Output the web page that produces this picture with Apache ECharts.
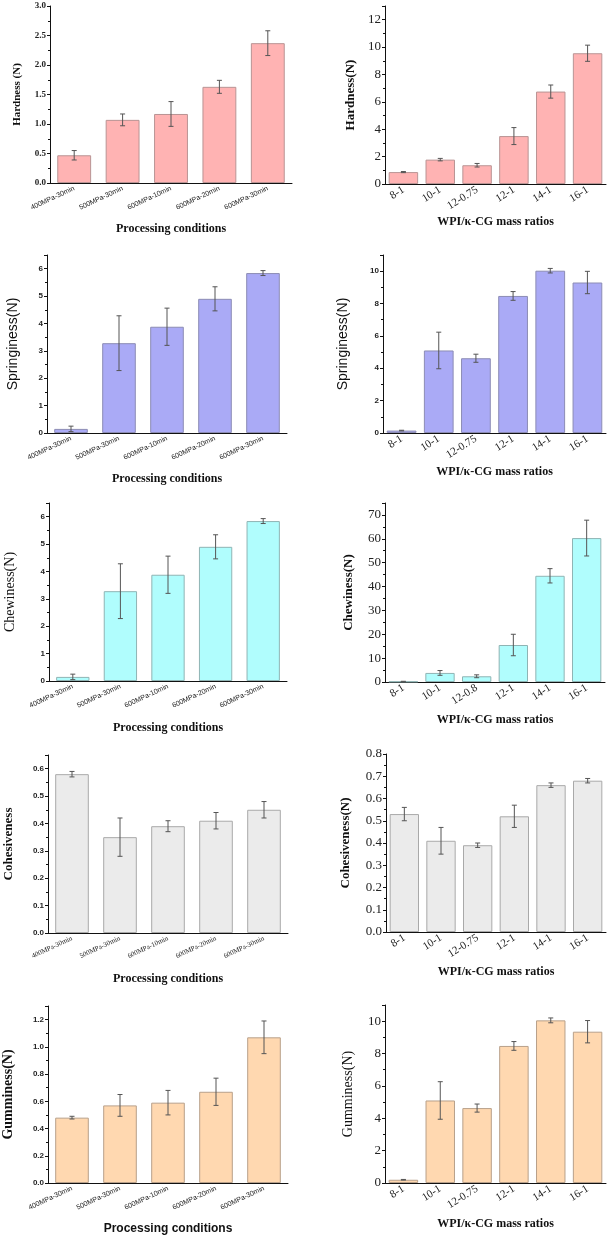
<!DOCTYPE html>
<html><head><meta charset="utf-8">
<script src="https://cdn.jsdelivr.net/npm/echarts@6/dist/echarts.min.js"></script>
<style>html,body{margin:0;padding:0;background:#fff}#c{width:609px;height:1239px}</style>
</head><body><div id="c"></div>
<script>
// ---- categories ----
const condCats = ["400MPa-30min", "500MPa-30min", "600MPa-10min", "600MPa-20min", "600MPa-30min"];
const ratioCats = ["8-1", "10-1", "12-0.75", "12-1", "14-1", "16-1"];
const ratioCatsChew = ["8-1", "10-1", "12-0.8", "12-1", "14-1", "16-1"];

// ---- values (mean) and error (sd) ----
const hardnessCond = [0.47, 1.07, 1.17, 1.63, 2.37];
const hardnessCondErr = [0.08, 0.10, 0.21, 0.11, 0.21];
const hardnessRatio = [0.87, 1.78, 1.37, 3.50, 6.75, 9.55];
const hardnessRatioErr = [0.04, 0.09, 0.13, 0.62, 0.48, 0.59];

const springCond = [0.15, 3.28, 3.88, 4.90, 5.84];
const springCondErr = [0.10, 1.00, 0.68, 0.44, 0.09];
const springRatio = [0.15, 5.10, 4.62, 8.47, 10.03, 9.30];
const springRatioErr = [0.02, 1.13, 0.25, 0.27, 0.14, 0.69];

const chewCond = [0.15, 3.28, 3.88, 4.90, 5.84];
const chewCondErr = [0.10, 1.00, 0.68, 0.44, 0.09];
const chewRatio = [0.2, 3.8, 2.4, 15.5, 44.5, 60.3];
const chewRatioErr = [0.1, 1.0, 0.6, 4.5, 3.0, 7.5];

const cohCond = [0.58, 0.35, 0.39, 0.41, 0.45];
const cohCondErr = [0.01, 0.07, 0.02, 0.03, 0.03];
const cohRatio = [0.53, 0.41, 0.39, 0.52, 0.66, 0.68];
const cohRatioErr = [0.03, 0.06, 0.01, 0.05, 0.01, 0.01];

const gumCond = [0.48, 0.57, 0.59, 0.67, 1.07];
const gumCondErr = [0.01, 0.08, 0.09, 0.10, 0.12];
const gumRatio = [0.2, 5.1, 4.63, 8.47, 10.05, 9.35];
const gumRatioErr = [0.02, 1.16, 0.25, 0.27, 0.15, 0.69];

// ---- axis ranges / tick settings ----
const yMax = [3, 13, 6.5, 11, 6.5, 75, 0.65, 0.8, 1.3, 11];
const yInterval = [0.5, 2, 1, 2, 1, 10, 0.1, 0.1, 0.2, 2];
const yDecimals = [1, 0, 0, 0, 0, 0, 1, 1, 1, 0];
const yNames = ["Hardness (N)", "Hardness(N)", "Springiness(N)", "Springiness(N)", "Chewiness(N)",
  "Chewiness(N)", "Cohesiveness", "Cohesiveness(N)", "Gumminess(N)", "Gumminess(N)"];
const xNameCond = "Processing conditions";
const xNameRatio = "WPI/\u03ba-CG mass ratios";

const SERIF = '"Liberation Serif", "Times New Roman", serif';
const SANS = '"Liberation Sans", Arial, sans-serif';

const panels = [
  {cats: condCats, v: hardnessCond, e: hardnessCondErr, color: '#ffb3b3', border: '#b99494',
   grid: {left: 50, top: 6, width: 242, height: 177},
   yFont: {size: 9, fam: SERIF, w: 'bold'}, yName: {size: 11, fam: SERIF, w: 'bold', gap: 27},
   xFont: {size: 7, fam: SANS, rot: 25}, xName: {size: 12, fam: SERIF, w: 'bold', gap: 40}, barW: '70%'},
  {cats: ratioCats, v: hardnessRatio, e: hardnessRatioErr, color: '#ffb3b3', border: '#b99494',
   grid: {left: 385, top: 6, width: 221, height: 178},
   yFont: {size: 13, fam: SERIF, w: 'normal'}, yName: {size: 13, fam: SERIF, w: 'bold', gap: 28},
   xFont: {size: 11, fam: SERIF, rot: 32}, xName: {size: 12, fam: SERIF, w: 'bold', gap: 32}, barW: '80%'},
  {cats: condCats, v: springCond, e: springCondErr, color: '#aaaaf6', border: '#8c8cb4',
   grid: {left: 47, top: 255, width: 240, height: 178},
   yFont: {size: 8, fam: SANS, w: 'bold'}, yName: {size: 14, fam: SANS, w: 'normal', gap: 27},
   xFont: {size: 7, fam: SANS, rot: 25}, xName: {size: 12, fam: SERIF, w: 'bold', gap: 40}, barW: '70%'},
  {cats: ratioCats, v: springRatio, e: springRatioErr, color: '#aaaaf6', border: '#8c8cb4',
   grid: {left: 383, top: 255, width: 223, height: 178},
   yFont: {size: 8, fam: SANS, w: 'bold'}, yName: {size: 14, fam: SANS, w: 'normal', gap: 33},
   xFont: {size: 11, fam: SERIF, rot: 32}, xName: {size: 12, fam: SERIF, w: 'bold', gap: 33}, barW: '80%'},
  {cats: condCats, v: chewCond, e: chewCondErr, color: '#b0fdfd', border: '#8fb4b4',
   grid: {left: 49, top: 503, width: 238, height: 178},
   yFont: {size: 8, fam: SANS, w: 'bold'}, yName: {size: 14, fam: SERIF, w: 'normal', gap: 32},
   xFont: {size: 7, fam: SANS, rot: 25}, xName: {size: 12, fam: SERIF, w: 'bold', gap: 41}, barW: '70%'},
  {cats: ratioCatsChew, v: chewRatio, e: chewRatioErr, color: '#b0fdfd', border: '#8fb4b4',
   grid: {left: 385, top: 503, width: 220, height: 179},
   yFont: {size: 13, fam: SERIF, w: 'normal'}, yName: {size: 13, fam: SERIF, w: 'bold', gap: 30},
   xFont: {size: 11, fam: SERIF, rot: 32}, xName: {size: 12, fam: SERIF, w: 'bold', gap: 32}, barW: '80%'},
  {cats: condCats, v: cohCond, e: cohCondErr, color: '#ebebeb', border: '#a9a9a9',
   grid: {left: 48, top: 755, width: 240, height: 178},
   yFont: {size: 8, fam: SANS, w: 'bold'}, yName: {size: 13, fam: SERIF, w: 'bold', gap: 33},
   xFont: {size: 7, fam: SERIF, rot: 25}, xName: {size: 12, fam: SERIF, w: 'bold', gap: 40}, barW: '70%'},
  {cats: ratioCats, v: cohRatio, e: cohRatioErr, color: '#ebebeb', border: '#a9a9a9',
   grid: {left: 386, top: 754, width: 220, height: 178},
   yFont: {size: 13, fam: SERIF, w: 'normal'}, yName: {size: 13, fam: SERIF, w: 'bold', gap: 34},
   xFont: {size: 11, fam: SERIF, rot: 32}, xName: {size: 12, fam: SERIF, w: 'bold', gap: 34}, barW: '80%'},
  {cats: condCats, v: gumCond, e: gumCondErr, color: '#ffd8b0', border: '#b8a08a',
   grid: {left: 48, top: 1006, width: 240, height: 177},
   yFont: {size: 8, fam: SANS, w: 'bold'}, yName: {size: 14, fam: SERIF, w: 'bold', gap: 33},
   xFont: {size: 7, fam: SANS, rot: 25}, xName: {size: 12, fam: SANS, w: 'bold', gap: 40}, barW: '70%'},
  {cats: ratioCats, v: gumRatio, e: gumRatioErr, color: '#ffd8b0', border: '#b8a08a',
   grid: {left: 385, top: 1005, width: 221, height: 178},
   yFont: {size: 13, fam: SERIF, w: 'normal'}, yName: {size: 14, fam: SERIF, w: 'normal', gap: 30},
   xFont: {size: 11, fam: SERIF, rot: 32}, xName: {size: 12, fam: SERIF, w: 'bold', gap: 35}, barW: '80%'}
];

function errRender(params, api) {
  const x = api.value(0), lo = api.value(1), hi = api.value(2);
  const a = api.coord([x, hi]), b = api.coord([x, lo]);
  const w = 2.5;
  const st = {stroke: '#555', lineWidth: 1};
  return {type: 'group', children: [
    {type: 'line', shape: {x1: a[0], y1: a[1], x2: b[0], y2: b[1]}, style: st},
    {type: 'line', shape: {x1: a[0] - w, y1: a[1], x2: a[0] + w, y2: a[1]}, style: st},
    {type: 'line', shape: {x1: b[0] - w, y1: b[1], x2: b[0] + w, y2: b[1]}, style: st}
  ]};
}

const grids = [], xAxes = [], yAxes = [], series = [];
panels.forEach((p, i) => {
  grids.push(Object.assign({containLabel: false}, p.grid));
  const isLeft = i % 2 === 0;
  xAxes.push({
    type: 'category', gridIndex: i, data: p.cats,
    name: isLeft ? xNameCond : xNameRatio, nameLocation: 'middle', nameGap: p.xName.gap,
    nameTextStyle: {fontFamily: p.xName.fam, fontSize: p.xName.size, fontWeight: p.xName.w, color: '#111'},
    axisLine: {lineStyle: {color: '#111', width: 1}},
    axisTick: {show: false},
    axisLabel: {interval: 0, rotate: p.xFont.rot, fontSize: p.xFont.size, fontFamily: p.xFont.fam,
      color: '#222', margin: 5},
    splitLine: {show: false}
  });
  const dec = yDecimals[i];
  yAxes.push({
    type: 'value', gridIndex: i, min: 0, max: yMax[i], interval: yInterval[i],
    name: yNames[i], nameLocation: 'middle', nameGap: p.yName.gap,
    nameTextStyle: {fontFamily: p.yName.fam, fontSize: p.yName.size, fontWeight: p.yName.w, color: '#111'},
    axisLine: {show: true, lineStyle: {color: '#111', width: 1}},
    axisTick: {show: true, length: 3, lineStyle: {color: '#111'}},
    minorTick: {show: true, splitNumber: 2, length: 2, lineStyle: {color: '#111'}},
    axisLabel: {fontSize: p.yFont.size, fontFamily: p.yFont.fam, fontWeight: p.yFont.w, color: '#222',
      margin: 4, showMaxLabel: Math.abs(yMax[i] / yInterval[i] - Math.round(yMax[i] / yInterval[i])) < 1e-6,
      formatter: v => Number(v).toFixed(dec)},
    splitLine: {show: false}
  });
  series.push({
    type: 'bar', xAxisIndex: i, yAxisIndex: i, data: p.v, barWidth: p.barW,
    itemStyle: {color: p.color, borderColor: p.border, borderWidth: 1}, silent: true
  });
  series.push({
    type: 'custom', xAxisIndex: i, yAxisIndex: i, renderItem: errRender, z: 5, silent: true,
    encode: {x: 0, y: [1, 2]},
    data: p.v.map((m, k) => [k, m - p.e[k], m + p.e[k]])
  });
});

const chart = echarts.init(document.getElementById('c'), null, {renderer: 'canvas'});
chart.setOption({animation: false, backgroundColor: '#fff', grid: grids, xAxis: xAxes, yAxis: yAxes, series: series});
</script></body></html>
